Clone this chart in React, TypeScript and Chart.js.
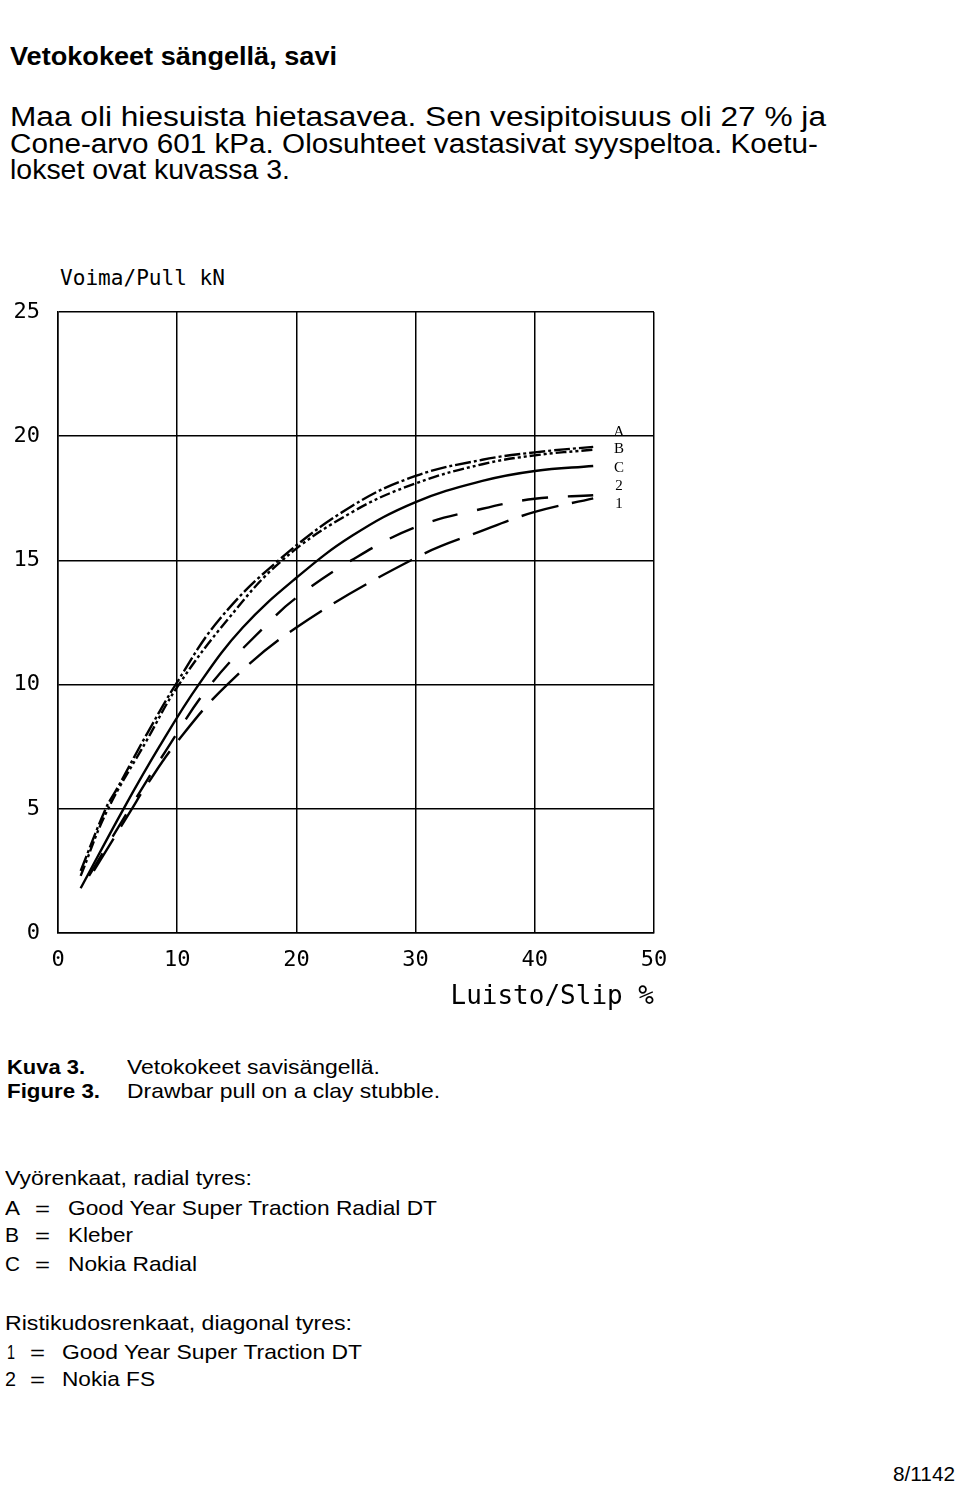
import React, { useEffect, useLayoutEffect, useRef } from "react";
import { Chart, registerables } from "chart.js";

Chart.register(...registerables);

// ---- data (slip %, pull kN) ----
const seriesNames = ["A", "B", "C", "2", "1"];
const slipA = [1.9, 4, 5, 7.5, 10, 13.5, 18.5, 24.7, 30, 35.6, 40, 44.9];
const pullA = [2.5, 5, 5.85, 8.05, 10.1, 12.6, 15, 17.2, 18.4, 19.05, 19.35, 19.57];
const slipB = [1.9, 4.1, 7.5, 10, 14.2, 18.8, 24.7, 30, 35.6, 40, 44.9];
const pullB = [2.3, 4.9, 7.8, 9.9, 12.6, 15, 16.95, 18.1, 18.87, 19.23, 19.46];
const slipC = [1.9, 5.5, 8.5, 11.8, 15.5, 20, 24.7, 30, 35.6, 40, 44.9];
const pullC = [1.8, 5, 7.5, 10, 12.3, 14.3, 16.0, 17.35, 18.2, 18.6, 18.8];
const slip2 = [2.6, 6, 9, 12.8, 17.6, 20, 24.6, 30, 35.6, 40, 44.9];
const pull2 = [2.3, 5, 7.3, 10, 12.46, 13.5, 15, 16.34, 17.08, 17.48, 17.62];
const slip1 = [3, 6.2, 7.3, 10, 14.2, 20, 30, 35.6, 40, 44.9];
const pull1 = [2.5, 5, 5.85, 7.7, 10, 12.3, 15.1, 16.2, 16.95, 17.5];
const xTicks = [0, 10, 20, 30, 40, 50];
const yTicks = [0, 5, 10, 15, 20, 25];

const MONO = '"DejaVu Sans Mono", "Liberation Mono", monospace';
const SANS = '"Liberation Sans", Arial, sans-serif';

function pts(xs: number[], ys: number[]) {
  return xs.map((x, i) => ({ x, y: ys[i] }));
}

type FitProps = {
  text: string;
  left: number;
  cy: number;
  width?: number;
  size: number;
  family?: string;
  weight?: number | string;
};

function FitText({ text, left, cy, width, size, family = SANS, weight = 400 }: FitProps) {
  const ref = useRef<HTMLDivElement>(null);
  useLayoutEffect(() => {
    const el = ref.current;
    if (!el || !width) return;
    el.style.transform = "none";
    const w = el.getBoundingClientRect().width;
    if (w > 0) el.style.transform = `scaleX(${width / w})`;
  }, [text, width]);
  return (
    <div
      ref={ref}
      style={{
        position: "absolute",
        left,
        top: cy - size / 2,
        fontSize: size,
        lineHeight: 1,
        fontFamily: family,
        fontWeight: weight as any,
        whiteSpace: "nowrap",
        transformOrigin: "0 0",
        color: "#000",
      }}
    >
      {text}
    </div>
  );
}

function PullChart() {
  const ref = useRef<HTMLCanvasElement>(null);
  useEffect(() => {
    if (!ref.current) return;
    const common = {
      pointRadius: 0,
      borderColor: "#000",
      borderWidth: 2.4,
      fill: false,
      tension: 0.4,
    };
    const chart = new Chart(ref.current, {
      type: "line",
      data: {
        datasets: [
          { ...common, label: seriesNames[0], data: pts(slipA, pullA), borderDash: [16, 3, 3, 3] },
          { ...common, label: seriesNames[1], data: pts(slipB, pullB), borderDash: [11, 3, 3, 3, 3, 3] },
          { ...common, label: seriesNames[2], data: pts(slipC, pullC) },
          { ...common, label: seriesNames[3], data: pts(slip2, pull2), borderDash: [26, 20] },
          { ...common, label: seriesNames[4], data: pts(slip1, pull1), borderDash: [38, 14] },
        ],
      },
      options: {
        responsive: false,
        animation: false,
        layout: { padding: { top: 52, right: 46, left: 0, bottom: 0 } },
        plugins: { legend: { display: false }, tooltip: { enabled: false } },
        scales: {
          x: {
            type: "linear",
            min: 0,
            max: 50,
            afterBuildTicks: (s: any) => {
              s.ticks = xTicks.map((v) => ({ value: v }));
            },
            afterFit: (s: any) => {
              s.height = 97;
            },
            ticks: { color: "#000", font: { family: MONO, size: 22 }, padding: 14, maxRotation: 0 },
            grid: { color: "#000", lineWidth: 1.5, drawTicks: false, tickLength: 0 },
            border: { display: true, color: "#000", width: 1.5 },
            title: {
              display: true,
              text: "Luisto/Slip %",
              align: "end",
              color: "#000",
              font: { family: MONO, size: 26 },
              padding: { top: 4, bottom: 17 },
            },
          },
          y: {
            min: 0,
            max: 25,
            afterBuildTicks: (s: any) => {
              s.ticks = yTicks.map((v) => ({ value: v }));
            },
            afterFit: (s: any) => {
              s.width = 58;
            },
            ticks: { color: "#000", font: { family: MONO, size: 22 }, padding: 18 },
            grid: { color: "#000", lineWidth: 1.5, drawTicks: false, tickLength: 0 },
            border: { display: true, color: "#000", width: 1.5 },
          },
        },
      },
    });
    return () => chart.destroy();
  }, []);
  return (
    <canvas
      ref={ref}
      width={700}
      height={770}
      style={{ position: "absolute", left: 0, top: 260, width: 700, height: 770 }}
    />
  );
}

const seriesLabelY = [431, 448, 467, 485, 503];

export default function App() {
  return (
    <div
      style={{
        position: "absolute",
        left: 0,
        top: 0,
        width: 960,
        height: 1491,
        background: "#fff",
        overflow: "hidden",
      }}
    >
      <FitText text="Vetokokeet sängellä, savi" left={10} cy={56} width={327} size={26} weight={700} />
      <FitText text="Maa oli hiesuista hietasavea. Sen vesipitoisuus oli 27 % ja" left={10} cy={117} width={816} size={27} />
      <FitText text="Cone-arvo 601 kPa. Olosuhteet vastasivat syyspeltoa. Koetu-" left={10} cy={144} width={808} size={27} />
      <FitText text="lokset ovat kuvassa 3." left={10} cy={170} width={280} size={27} />

      <FitText text="Voima/Pull kN" left={60} cy={278} width={165} size={22} family={MONO} />
      <PullChart />
      {seriesNames.map((n, i) => (
        <div
          key={n}
          style={{
            position: "absolute",
            left: 612,
            width: 14,
            textAlign: "center",
            top: seriesLabelY[i] - 8,
            fontSize: 15,
            lineHeight: "16px",
            fontFamily: '"Liberation Serif", serif',
            color: "#000",
          }}
        >
          {n}
        </div>
      ))}

      <FitText text="Kuva  3." left={7} cy={1066} width={78} size={21} weight={700} />
      <FitText text="Vetokokeet savisängellä." left={127} cy={1066} width={253} size={21} />
      <FitText text="Figure  3." left={7} cy={1090} width={93} size={21} weight={700} />
      <FitText text="Drawbar pull on a clay stubble." left={127} cy={1090} width={313} size={21} />

      <FitText text="Vyörenkaat, radial tyres:" left={5} cy={1177} width={247} size={21} />
      <FitText text="A" left={5} cy={1207} width={15} size={21} />
      <FitText text="=" left={35} cy={1208} width={15} size={21} />
      <FitText text="Good Year Super Traction Radial DT" left={68} cy={1207} width={369} size={21} />
      <FitText text="B" left={5} cy={1234} width={14} size={21} />
      <FitText text="=" left={35} cy={1235} width={15} size={21} />
      <FitText text="Kleber" left={68} cy={1234} width={65} size={21} />
      <FitText text="C" left={5} cy={1263} width={15} size={21} />
      <FitText text="=" left={35} cy={1264} width={15} size={21} />
      <FitText text="Nokia Radial" left={68} cy={1263} width={129} size={21} />

      <FitText text="Ristikudosrenkaat, diagonal tyres:" left={5} cy={1322} width={347} size={21} />
      <FitText text="1" left={7} cy={1351} width={8} size={21} />
      <FitText text="=" left={30} cy={1352} width={15} size={21} />
      <FitText text="Good Year Super Traction DT" left={62} cy={1351} width={300} size={21} />
      <FitText text="2" left={5} cy={1378} width={11} size={21} />
      <FitText text="=" left={30} cy={1379} width={15} size={21} />
      <FitText text="Nokia FS" left={62} cy={1378} width={93} size={21} />

      <FitText text="8/1142" left={893} cy={1473} width={62} size={21} />
    </div>
  );
}
